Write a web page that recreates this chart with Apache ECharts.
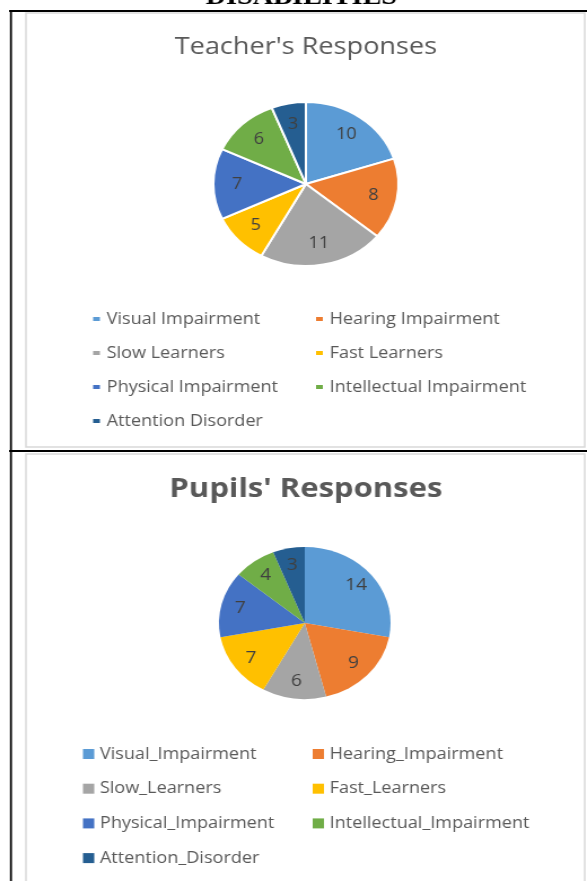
<!DOCTYPE html>
<html>
<head>
<meta charset="utf-8">
<script src="https://cdn.jsdelivr.net/npm/echarts@6/dist/echarts.min.js"></script>
<style>
html,body{margin:0;padding:0;background:#fff;overflow:hidden;}
#wrap{width:587px;height:881px;overflow:hidden;position:relative;}
#c{width:520px;height:881px;transform:scaleX(1.1288);transform-origin:0 0;}
</style>
</head>
<body>
<div id="wrap"><div id="c"></div></div>
<script>
const teacherCategories = ["Visual Impairment","Hearing Impairment","Slow Learners","Fast Learners","Physical Impairment","Intellectual Impairment","Attention Disorder"];
const teacherValues = [10, 8, 11, 5, 7, 6, 3];
const pupilCategories = ["Visual_Impairment","Hearing_Impairment","Slow_Learners","Fast_Learners","Physical_Impairment","Intellectual_Impairment","Attention_Disorder"];
const pupilValues = [14, 9, 6, 7, 7, 4, 3];
const sliceColors = ["#5B9BD5","#ED7D31","#A5A5A5","#FFC000","#4472C4","#70AD47","#255E91"];

const FONT = '"Open Sans", "Noto Sans", sans-serif';

function pieData(cats, vals) {
  return cats.map((n, i) => ({ name: n, value: vals[i], itemStyle: { color: sliceColors[i] } }));
}
function labelData(cats, vals) {
  return cats.map((n, i) => ({ name: n, value: vals[i] }));
}
function legendItems(cats, idxs) {
  return idxs.map(i => ({ name: cats[i], itemStyle: { color: sliceColors[i] } }));
}

const legendBase = {
  orient: 'vertical', padding: 0, icon: 'rect', selectedMode: false,
  textStyle: { fontFamily: FONT, fontSize: 16, color: '#595959', lineHeight: 20 }
};

const chart = echarts.init(document.getElementById('c'), null, { renderer: 'canvas' });
chart.setOption({
  animation: false,
  backgroundColor: '#ffffff',
  title: [
    { text: "Teacher's Responses", left: 266, top: 30, textAlign: 'center',
      textStyle: { fontFamily: FONT, fontSize: 24, fontWeight: 'normal', color: '#595959' } },
    { text: "Pupils' Responses", left: 266, top: 470, textAlign: 'center',
      textStyle: { fontFamily: FONT, fontSize: 27.5, fontWeight: 'bold', color: '#595959' } }
  ],
  legend: [
    Object.assign({}, legendBase, { left: 80.5, top: 309, itemWidth: 8, itemHeight: 6, itemGap: 14, data: legendItems(teacherCategories, [0,2,4,6]) }),
    Object.assign({}, legendBase, { left: 278, top: 309, itemWidth: 8, itemHeight: 6, itemGap: 14, data: legendItems(teacherCategories, [1,3,5]) }),
    Object.assign({}, legendBase, { left: 73.5, top: 744, itemWidth: 10, itemHeight: 10, itemGap: 14.7, data: legendItems(pupilCategories, [0,2,4,6]) }),
    Object.assign({}, legendBase, { left: 277, top: 744, itemWidth: 10, itemHeight: 10, itemGap: 14.7, data: legendItems(pupilCategories, [1,3,5]) })
  ],
  graphic: [
    { type: 'text', z: 10, style: { text: 'DISABILITIES', x: 267, y: 10, align: 'center', verticalAlign: 'bottom', font: 'bold 25px "Liberation Serif", serif', fill: '#000' } },
    { type: 'rect', shape: { x: 23, y: 13, width: 495, height: 434 }, style: { fill: 'none', stroke: '#d9d9d9', lineWidth: 1.5 } },
    { type: 'rect', shape: { x: 23, y: 454, width: 495, height: 440 }, style: { fill: 'none', stroke: '#d9d9d9', lineWidth: 1.5 } },
    { type: 'line', shape: { x1: 8, y1: 11, x2: 520, y2: 11 }, style: { stroke: '#000', lineWidth: 2 } },
    { type: 'line', shape: { x1: 9.7, y1: 10, x2: 9.7, y2: 881 }, style: { stroke: '#000', lineWidth: 1.8 } },
    { type: 'line', shape: { x1: 8, y1: 451, x2: 520, y2: 451 }, style: { stroke: '#000', lineWidth: 2 } }
  ],
  series: [
    { type: 'pie', center: [271, 184], radius: [0, 82], startAngle: 90, clockwise: true,
      data: pieData(teacherCategories, teacherValues), label: { show: false }, labelLine: { show: false },
      itemStyle: { borderColor: '#fff', borderWidth: 2 }, emphasis: { disabled: true } },
    { type: 'pie', center: [271, 184], radius: [34, 82], startAngle: 90, clockwise: true, silent: true,
      data: labelData(teacherCategories, teacherValues), itemStyle: { color: 'rgba(0,0,0,0)' },
      label: { show: true, position: 'inside', formatter: '{c}', fontFamily: FONT, fontSize: 16, color: '#404040' },
      labelLine: { show: false }, emphasis: { disabled: true } },
    { type: 'pie', center: [270, 623], radius: [0, 76], startAngle: 90, clockwise: true,
      data: pieData(pupilCategories, pupilValues), label: { show: false }, labelLine: { show: false },
      emphasis: { disabled: true } },
    { type: 'pie', center: [270, 623], radius: [36, 76], startAngle: 90, clockwise: true, silent: true,
      data: labelData(pupilCategories, pupilValues), itemStyle: { color: 'rgba(0,0,0,0)' },
      label: { show: true, position: 'inside', formatter: '{c}', fontFamily: FONT, fontSize: 17, color: '#404040' },
      labelLine: { show: false }, emphasis: { disabled: true } }
  ]
});
</script>
</body>
</html>
